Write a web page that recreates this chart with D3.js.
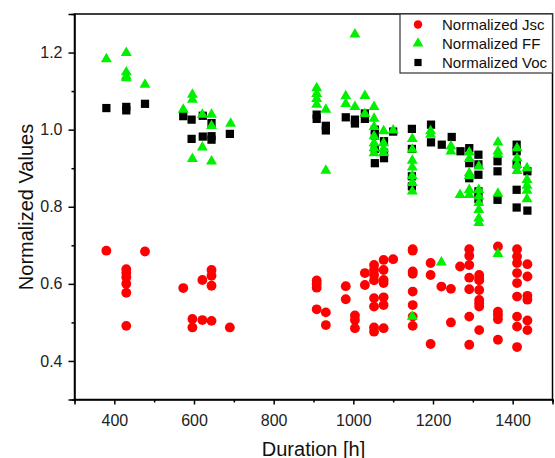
<!DOCTYPE html>
<html>
<head>
<meta charset="utf-8">
<script src="https://cdn.jsdelivr.net/npm/d3@7"></script>
<style>
  html, body { margin: 0; padding: 0; background: #fff; }
  svg { display: block; font-family: 'Liberation Sans', Arial, sans-serif; }
</style>
</head>
<body>
<svg id="chart" width="555" height="458"></svg>
<script>
'use strict';

// duration [h] -> values measured at that duration
const jscData = [
  [380, [0.686]],
  [430, [0.638, 0.628, 0.617, 0.600, 0.577, 0.491]],
  [477, [0.684]],
  [573, [0.589]],
  [596, [0.509, 0.487]],
  [621, [0.610, 0.506]],
  [644, [0.636, 0.621, 0.595, 0.504]],
  [690, [0.487]],
  [908, [0.609, 0.600, 0.590, 0.534]],
  [931, [0.526, 0.493]],
  [981, [0.594, 0.560]],
  [1004, [0.518, 0.506, 0.485]],
  [1029, [0.628, 0.597]],
  [1052, [0.649, 0.636, 0.623, 0.609, 0.563, 0.541, 0.487, 0.476]],
  [1076, [0.662, 0.636, 0.610, 0.602, 0.565, 0.545, 0.485]],
  [1100, [0.664]],
  [1149, [0.690, 0.686, 0.632, 0.626, 0.580, 0.545, 0.515, 0.491]],
  [1194, [0.654, 0.623, 0.444]],
  [1221, [0.593]],
  [1245, [0.587, 0.500]],
  [1268, [0.645]],
  [1291, [0.690, 0.673, 0.649, 0.616, 0.586, 0.515, 0.442]],
  [1316, [0.623, 0.615, 0.609, 0.584, 0.558, 0.550, 0.541, 0.480]],
  [1363, [0.697, 0.528, 0.519, 0.508, 0.455]],
  [1411, [0.690, 0.671, 0.654, 0.628, 0.602, 0.567, 0.515, 0.489, 0.436]],
  [1437, [0.651, 0.619, 0.569, 0.559, 0.505, 0.480]]
];

const ffData = [
  [380, [1.183]],
  [430, [1.199, 1.149, 1.138, 1.134]],
  [477, [1.117]],
  [573, [1.052]],
  [596, [1.091, 1.078, 0.924]],
  [621, [1.039, 0.954]],
  [644, [1.039, 1.010, 0.918]],
  [692, [1.016]],
  [908, [1.108, 1.093, 1.080, 1.065]],
  [931, [1.052, 0.894]],
  [981, [1.087, 1.067]],
  [1004, [1.247, 1.059]],
  [1029, [1.088, 1.041]],
  [1052, [1.059, 1.029, 1.007, 0.983, 0.965, 0.952, 0.939]],
  [1076, [0.996, 0.965, 0.950, 0.940]],
  [1100, [0.998]],
  [1148, [0.976, 0.948, 0.920, 0.902, 0.880, 0.862, 0.840, 0.515]],
  [1194, [0.996, 0.987]],
  [1221, [0.656]],
  [1245, [0.957, 0.944]],
  [1268, [0.831]],
  [1291, [0.941, 0.924, 0.887, 0.880, 0.844, 0.831]],
  [1315, [0.905, 0.844, 0.827, 0.810, 0.792, 0.770, 0.758]],
  [1363, [0.967, 0.944, 0.935, 0.834, 0.678]],
  [1411, [0.952, 0.926, 0.909, 0.893]],
  [1436, [0.900, 0.870, 0.855, 0.842, 0.820]]
];

const vocData = [
  [380, [1.056]],
  [430, [1.059, 1.050]],
  [477, [1.067]],
  [573, [1.035]],
  [594, [1.026, 0.976]],
  [622, [1.036, 0.982]],
  [644, [1.017, 0.983, 0.974]],
  [690, [0.989]],
  [908, [1.039, 1.028]],
  [931, [1.010, 0.998]],
  [981, [1.032]],
  [1004, [1.026, 1.016]],
  [1029, [1.042, 1.028]],
  [1054, [1.000, 0.985, 0.950, 0.913]],
  [1077, [0.970, 0.940, 0.926]],
  [1100, [0.995]],
  [1147, [1.002, 0.950, 0.879, 0.853]],
  [1195, [1.013, 0.967]],
  [1222, [0.961]],
  [1247, [0.981]],
  [1269, [0.944]],
  [1291, [0.952, 0.913, 0.874]],
  [1314, [0.935, 0.910, 0.883, 0.840, 0.820]],
  [1362, [0.918, 0.892, 0.818]],
  [1410, [0.961, 0.944, 0.910, 0.844, 0.798]],
  [1437, [0.892, 0.790]]
];

const xMajorTicks = [400, 600, 800, 1000, 1200, 1400];
const xMinorTicks = [300, 500, 700, 900, 1100, 1300, 1500];
const yMajorTicks = [0.4, 0.6, 0.8, 1.0, 1.2];
const yMinorTicks = [0.3, 0.5, 0.7, 0.9, 1.1, 1.3];

const seriesNames = ['Normalized Jsc', 'Normalized FF', 'Normalized Voc'];

// plot frame (pixels)
const margin = { top: 14, right: 2.5, bottom: 58.5, left: 74.5 },
      width  = 555 - margin.left - margin.right,
      height = 458 - margin.top - margin.bottom;

const svg = d3.select('#chart')
            .append('g')
              .attr('transform', `translate(${margin.left},${margin.top})`);

const x = d3.scaleLinear().domain([300, 1500]).range([0, width]),
      y = d3.scaleLinear().domain([0.3, 1.3]).range([height, 0]);

// series definitions (drawing order: Voc, Jsc, FF on top)
const series = [
  { name: seriesNames[2], data: vocData, type: d3.symbolSquare,   size: 68, legendSize: 52, color: '#000000' },
  { name: seriesNames[0], data: jscData, type: d3.symbolCircle,   size: 76, legendSize: 56, color: '#ff0000' },
  { name: seriesNames[1], data: ffData,  type: d3.symbolTriangle, size: 52, legendSize: 50, color: '#00f000' }
];

const flat = (rows) => rows.flatMap(([h, vals]) => vals.map((v) => ({ h: h, v: v })));

// frame
svg.append('rect')
    .attr('width', width)
    .attr('height', height)
    .attr('fill', 'none')
    .attr('stroke', '#000')
    .attr('stroke-width', 1.5);

// x-axis
svg.append('g')
    .attr('transform', `translate(0,${height})`)
    .call(d3.axisBottom(x).tickValues(xMajorTicks).tickSize(5).tickPadding(10).tickFormat(d3.format('d')));
svg.append('g')
    .attr('transform', `translate(0,${height})`)
    .call(d3.axisBottom(x).tickValues(xMinorTicks).tickSize(3).tickFormat(''))
    .select('.domain').remove();

// y-axis
svg.append('g')
    .call(d3.axisLeft(y).tickValues(yMajorTicks).tickSize(6).tickPadding(6).tickFormat(d3.format('.1f')));
svg.append('g')
    .call(d3.axisLeft(y).tickValues(yMinorTicks).tickSize(3).tickFormat(''))
    .select('.domain').remove();

svg.selectAll('.tick line').attr('stroke', '#000').attr('stroke-width', 1.5);
svg.selectAll('.domain').attr('stroke', '#000').attr('stroke-width', 1.5);
svg.selectAll('.tick text')
    .attr('fill', '#222')
    .style('font-size', '16px')
    .style('font-family', "'Liberation Sans', Arial, sans-serif");

// axis titles
svg.append('text')
    .attr('x', width / 2)
    .attr('y', height + 56)
    .attr('text-anchor', 'middle')
    .style('font-size', '20px')
    .attr('fill', '#111')
    .text('Duration [h]');

svg.append('text')
    .attr('transform', `translate(${33 - margin.left},${207 - margin.top}) rotate(-90)`)
    .attr('text-anchor', 'middle')
    .style('font-size', '20px')
    .attr('fill', '#111')
    .text('Normalized Values');

// markers
series.forEach((s) => {
  svg.append('g')
      .attr('class', 'markers')
    .selectAll('path')
      .data(flat(s.data))
    .enter().append('path')
      .attr('transform', (d) => `translate(${x(d.h)},${y(d.v)})`)
      .attr('d', d3.symbol().type(s.type).size(s.size))
      .attr('fill', s.color);
});

// legend
const legendRows = [series[1], series[2], series[0]];
const legend = svg.append('g')
    .attr('transform', `translate(${400 - margin.left},0)`);
legend.append('rect')
    .attr('width', 152.5)
    .attr('height', 59)
    .attr('fill', '#fff')
    .attr('stroke', '#333')
    .attr('stroke-width', 1.2);
const rows = legend.selectAll('.row')
    .data(legendRows)
  .enter().append('g')
    .attr('class', 'row')
    .attr('transform', (d, i) => `translate(18,${10.5 + i * 19})`);
rows.append('path')
    .attr('d', (d) => d3.symbol().type(d.type).size(d.legendSize)())
    .attr('fill', (d) => d.color);
rows.append('text')
    .attr('x', 24)
    .attr('dy', '0.36em')
    .style('font-size', '15px')
    .attr('fill', '#111')
    .text((d) => d.name);
</script>
</body>
</html>
